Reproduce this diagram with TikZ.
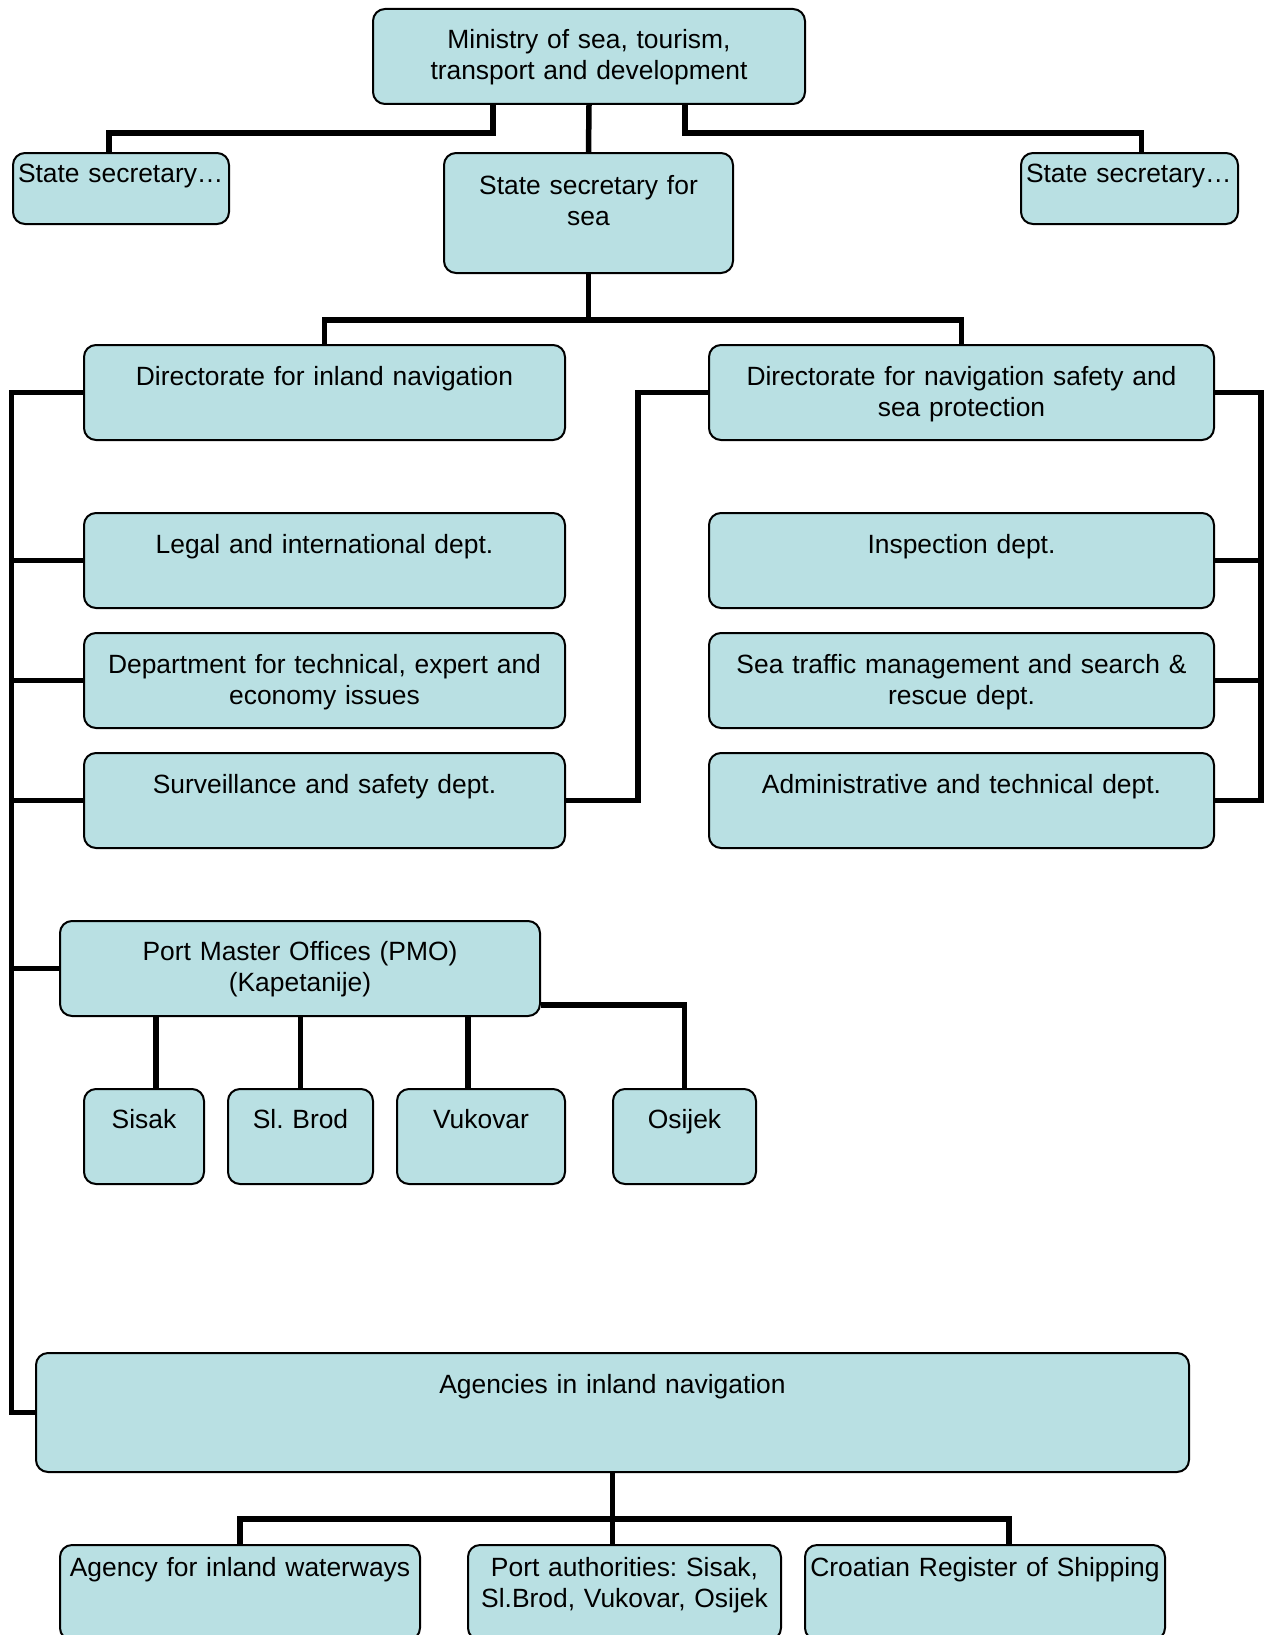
\documentclass[tikz,border=0pt]{standalone}
\usepackage{fontspec}
\setmainfont{Liberation Sans}
\definecolor{orgblue}{RGB}{185,224,227}
\tikzset{
  unit/.style={draw, line width=2pt, rounded corners=12pt, fill=orgblue, anchor=north west,
    inner xsep=0pt, inner ysep=0pt, align=center, text height=40pt,
    font=\fontsize{26.4}{31}\selectfont\frenchspacing},
  link/.style={line width=5.5pt},
}
\begin{document}
\begin{tikzpicture}[x=1pt, y=-1pt]
\useasboundingbox (0,0) rectangle (1271,1635);
\clip (0,0) rectangle (1271,1635);

\node[unit, text width=432pt, text depth=55pt] (min) at (372,8) {Ministry of sea, tourism,\\transport and development};
\node[unit, align=left, inner xsep=5pt, text width=206pt, text height=29pt, text depth=42pt] (ssl) at (12,152) {\mbox{State secretary…}};
\node[unit, text width=289pt, text height=41pt, text depth=79pt] (sss) at (443,152) {State secretary for\\sea};
\node[unit, align=left, inner xsep=5pt, text width=207pt, text height=29pt, text depth=42pt] (ssr) at (1020,152) {\mbox{State secretary…}};

\node[unit, text width=481pt, text depth=55pt] (dirI) at (83,344) {Directorate for inland navigation};
\node[unit, text width=481pt, text depth=55pt] (legal) at (83,512) {Legal and international dept.};
\node[unit, text width=481pt, text depth=55pt] (tech) at (83,632) {Department for technical, expert and\\economy issues};
\node[unit, text width=481pt, text depth=55pt] (surv) at (83,752) {Surveillance and safety dept.};

\node[unit, text width=505pt, text depth=55pt] (dirS) at (708,344) {Directorate for navigation safety and\\sea protection};
\node[unit, text width=505pt, text depth=55pt] (insp) at (708,512) {Inspection dept.};
\node[unit, text width=505pt, text depth=55pt] (traf) at (708,632) {Sea traffic management and search \&\\rescue dept.};
\node[unit, text width=505pt, text depth=55pt] (admin) at (708,752) {Administrative and technical dept.};

\node[unit, text width=480pt, text height=39pt, text depth=56pt] (pmo) at (59,920) {Port Master Offices (PMO)\\(Kapetanije)};
\node[unit, text width=120pt, text height=39pt, text depth=56pt] (sisak) at (83,1088) {Sisak};
\node[unit, text width=145pt, text height=39pt, text depth=56pt] (brod) at (227,1088) {Sl. Brod};
\node[unit, text width=168pt, text height=39pt, text depth=56pt] (vuk) at (396,1088) {Vukovar};
\node[unit, text width=143pt, text height=39pt, text depth=56pt] (osi) at (612,1088) {Osijek};

\node[unit, text width=1153pt, text depth=79pt] (agen) at (35,1352) {Agencies in inland navigation};
\node[unit, text width=360pt, text height=31pt, text depth=64pt] (aiw) at (59,1544) {Agency for inland waterways};
\node[unit, text width=313pt, text height=31pt, text depth=64pt] (port) at (467,1544) {Port authorities: Sisak,\\Sl.Brod, Vukovar, Osijek};
\node[unit, text width=360pt, text height=31pt, text depth=64pt] (crs) at (804,1544) {Croatian Register of Shipping};

\coordinate (busL) at (11.5,0);
\coordinate (busR) at (1261,0);

\draw[link] ([xshift=-96pt]min.south) -- ++(0,28) -| ([xshift=-12pt]ssl.north);
\draw[link] (min.south) -- (sss.north);
\draw[link] ([xshift=96pt]min.south) -- ++(0,28) -| ([xshift=12pt]ssr.north);
\draw[link] (sss.south) -- ++(0,46) coordinate (secbus) -| (dirI.north) (secbus) -| (dirS.north);

\draw[link] (dirI.west) -| (busL |- agen.west) -- (agen.west);
\foreach \n in {legal,tech,surv,pmo}
  \draw[link] (\n.west) -- (\n.west -| busL);
\draw[link] (dirS.east) -| (busR |- admin.east) -- (admin.east);
\foreach \n in {insp,traf}
  \draw[link] (\n.east) -- (\n.east -| busR);
\draw[link] (surv.east) -- ++(72,0) |- (dirS.west);

\foreach \n/\s in {sisak/12,brod/0,vuk/-13}
  \draw[link] ([xshift=\s pt]\n.north) -- ([xshift=\s pt]\n.north |- pmo.south);
\draw[link] ([yshift=12pt]pmo.south east) -| (osi.north);

\draw[link] (agen.south) -- ++(0,46) coordinate (agbus) -| (aiw.north) (agbus) -| ([xshift=24pt]crs.north) (agbus) -- (agbus |- port.north);
\end{tikzpicture}
\end{document}
